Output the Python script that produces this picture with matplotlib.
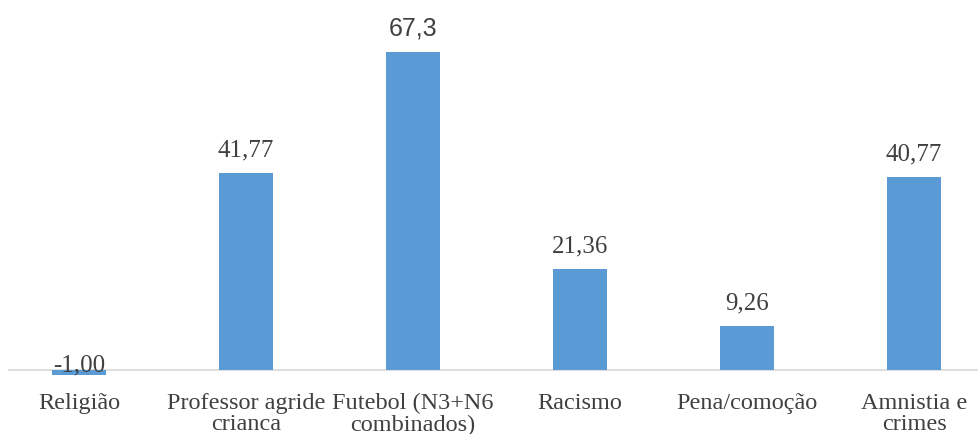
import matplotlib
matplotlib.use("Agg")
import matplotlib.pyplot as plt

categorias = ["Religião", "Professor agride\ncrianca", "Futebol (N3+N6\ncombinados)",
              "Racismo", "Pena/comoção", "Amnistia e\ncrimes"]
valores = [-1.00, 41.77, 67.3, 21.36, 9.26, 40.77]
rotulos = ["-1,00", "41,77", "67,3", "21,36", "9,26", "40,77"]

azul = "#5B9BD5"
serif = "Liberation Serif"

fig = plt.figure(figsize=(9.79, 4.35), dpi=100)
ax = fig.add_axes([8 / 979, 50 / 435, 971 / 979, 385 / 435])

x = list(range(len(categorias)))
ax.bar(x, valores, width=0.32, color=azul, zorder=2)
ax.axhline(0, color="#D9D9D9", lw=1.2, zorder=1)

ax.set_xlim(-0.425, 5.389)
ax.set_ylim(-2.96, 78.5)

for xi, v, r in zip(x, valores, rotulos):
    y = max(v, 0)
    fam = "Liberation Sans" if r == "67,3" else serif
    ax.annotate(r, (xi, y), xytext=(0, 9 if v > 0 else -4), textcoords="offset points",
                ha="center", va="bottom", fontsize=18, color="#404040", family=fam)

ax.set_xticks(x)
ax.set_xticklabels(categorias, fontsize=17.5, family=serif, color="#404040",
                   linespacing=1.0)
ax.tick_params(axis="x", length=0, pad=6)
ax.set_yticks([])
for s in ax.spines.values():
    s.set_visible(False)

fig.savefig("out.png", dpi=100)
